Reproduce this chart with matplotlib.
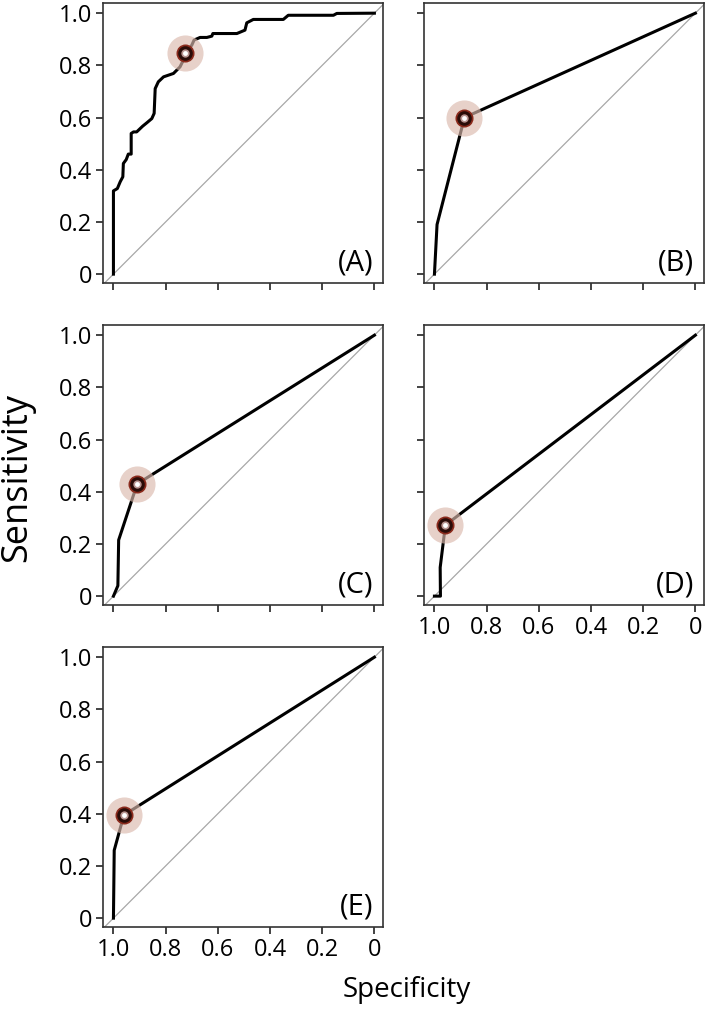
import numpy as np
from matplotlib import pyplot as plt

plt.rcParams["font.family"] = ["Open Sans", "DejaVu Sans"]

# ROC curves (specificity, sensitivity)
spec_a = [1.0, 1.0, 0.985, 0.974, 0.964, 0.962, 0.951, 0.943, 0.932, 0.932, 0.923,
          0.911, 0.888, 0.872, 0.853, 0.844, 0.840, 0.828, 0.808, 0.770, 0.745,
          0.732, 0.724, 0.700, 0.691, 0.668, 0.642, 0.623, 0.619, 0.527, 0.496,
          0.489, 0.464, 0.349, 0.330, 0.157, 0.144, 0.0]
sens_a = [0.0, 0.319, 0.328, 0.354, 0.373, 0.424, 0.439, 0.460, 0.460, 0.539, 0.545,
          0.545, 0.567, 0.580, 0.596, 0.616, 0.711, 0.737, 0.756, 0.769, 0.794,
          0.820, 0.848, 0.877, 0.897, 0.907, 0.907, 0.912, 0.922, 0.922, 0.935,
          0.963, 0.976, 0.976, 0.992, 0.992, 0.999, 1.0]
spec_b = [1.0, 0.99, 0.885, 0.0]
sens_b = [0.0, 0.19, 0.60, 1.0]
spec_c = [1.0, 0.983, 0.98, 0.909, 0.0]
sens_c = [0.0, 0.04, 0.215, 0.43, 1.0]
spec_d = [1.0, 0.977, 0.978, 0.958, 0.0]
sens_d = [0.0, 0.0, 0.11, 0.272, 1.0]
spec_e = [1.0, 0.997, 0.96, 0.0]
sens_e = [0.0, 0.26, 0.395, 1.0]

# optimal cut-off points
cut_spec = [0.724, 0.885, 0.909, 0.958, 0.96]
cut_sens = [0.848, 0.60, 0.43, 0.272, 0.395]

panel_labels = ["(A)", "(B)", "(C)", "(D)", "(E)"]
ticks = [0, 0.2, 0.4, 0.6, 0.8, 1.0]
tick_labels = ["0", "0.2", "0.4", "0.6", "0.8", "1.0"]

curves = [(spec_a, sens_a), (spec_b, sens_b), (spec_c, sens_c),
          (spec_d, sens_d), (spec_e, sens_e)]

fig = plt.figure(figsize=(7.09, 10.10), dpi=100)
W, H = 709, 1010
# (left px, top px) of each 280x280 panel
boxes = [(103, 3), (424, 3), (103, 325), (424, 325), (103, 647)]

for i, ((sx, sy), (lx, ty)) in enumerate(zip(curves, boxes)):
    ax = fig.add_axes([lx / W, 1 - (ty + 280) / H, 280 / W, 280 / H])
    ax.set_xlim(1.04, -0.033)
    ax.set_ylim(-0.034, 1.039)
    ax.axline((1, 0), (0, 1), color="#a8a8a8", lw=0.9, zorder=1)
    ax.plot(sx, sy, color="black", lw=2.2, solid_joinstyle="round", zorder=2)

    # cut-off marker: halo, ring, dark sphere and highlight
    ax.plot(cut_spec[i], cut_sens[i], "o", ms=26, color="#dbb9ad", alpha=0.65,
            mec="none", zorder=3)
    ax.plot(cut_spec[i], cut_sens[i], "o", ms=13, color="#8a2a1c", mec="none", zorder=4)
    ax.plot(cut_spec[i], cut_sens[i], "o", ms=10.5, color="#2a0c08", mec="none", zorder=5)
    ax.plot(cut_spec[i], cut_sens[i], "o", ms=6, color="#b89490", mec="none", zorder=6)
    ax.plot(cut_spec[i], cut_sens[i], "o", ms=3.5, color="white", mec="none", zorder=7)

    ax.set_xticks(ticks)
    ax.set_yticks(ticks)
    ax.set_xticklabels(tick_labels if i in (3, 4) else [])
    ax.set_yticklabels(tick_labels if i in (0, 2, 4) else [])
    ax.tick_params(direction="out", length=5, width=1.2, labelsize=17,
                   color="#222222", pad=3)
    for sp in ax.spines.values():
        sp.set_linewidth(1.2)
        sp.set_color("#333333")
    ax.text(0.965, 0.02, panel_labels[i], transform=ax.transAxes,
            ha="right", va="bottom", fontsize=21)

fig.text(17 / W, 1 - 478 / H, "Sensitivity", rotation=90, ha="center",
         va="center", fontsize=26)
fig.text(407 / W, 1 - 990 / H, "Specificity", ha="center", va="center",
         fontsize=20)

fig.savefig("out.png", dpi=100)
